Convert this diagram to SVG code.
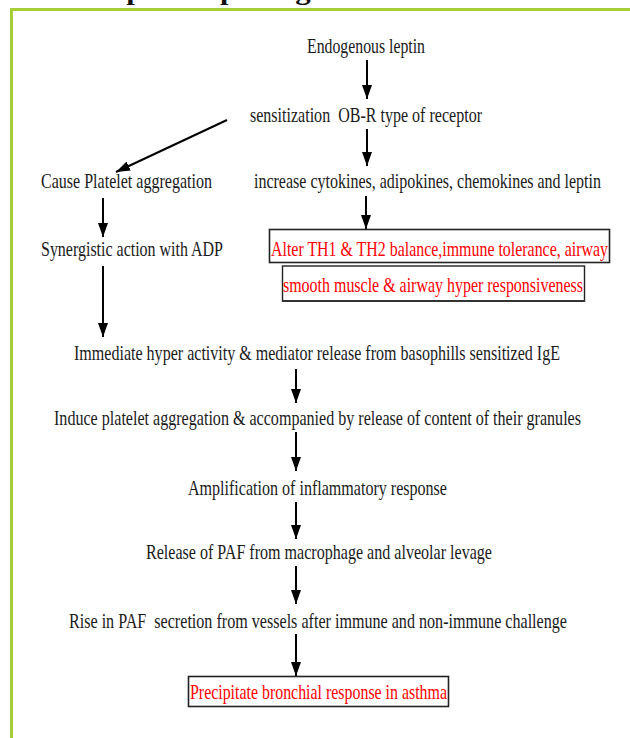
<svg xmlns="http://www.w3.org/2000/svg" width="630" height="738" viewBox="0 0 630 738">
<style>
.t{font-family:"Liberation Serif","Times New Roman",serif;font-size:21px;fill:#1a1a1a}
.r{font-family:"Liberation Serif","Times New Roman",serif;font-size:21px;fill:#ff0000}
.ttl{font-family:"Liberation Serif","Times New Roman",serif;font-size:26px;font-weight:bold;fill:#111}
.box{fill:#fff;stroke:#222;stroke-width:1.6}
.c{stroke:#000;stroke-width:2;fill:none;marker-end:url(#ah)}
</style>
<defs>
<marker id="ah" markerUnits="userSpaceOnUse" markerWidth="14" markerHeight="10" refX="14" refY="5" orient="auto">
<path d="M0,0 L14,5 L0,10 z" fill="#000"/>
</marker>
</defs>
<rect width="630" height="738" fill="#fff"/>
<text class="ttl" x="92" y="0" textLength="432" lengthAdjust="spacingAndGlyphs">Leptin in pathogenesis of asthma</text>
<rect x="11.5" y="9.5" width="660" height="760" fill="none" stroke="#a6ce39" stroke-width="3"/>

<g id="connectors">
<line class="c" x1="367" y1="60" x2="367" y2="99"/>
<line class="c" x1="227" y1="120" x2="116" y2="172"/>
<line class="c" x1="367" y1="129" x2="367" y2="166"/>
<line class="c" x1="103" y1="198" x2="103" y2="237"/>
<line class="c" x1="366" y1="196" x2="366" y2="229"/>
<line class="c" x1="103" y1="266" x2="103" y2="337"/>
<line class="c" x1="296" y1="369" x2="296" y2="403"/>
<line class="c" x1="296" y1="432" x2="296" y2="471"/>
<line class="c" x1="296" y1="502" x2="296" y2="539"/>
<line class="c" x1="296" y1="566" x2="296" y2="604"/>
<line class="c" x1="296" y1="634" x2="296" y2="676"/>
</g>

<g id="n-endogenous"><text class="t" x="307" y="53" textLength="118" lengthAdjust="spacingAndGlyphs">Endogenous leptin</text></g>
<g id="n-sensitization"><text class="t" x="250" y="122" textLength="232" lengthAdjust="spacingAndGlyphs" xml:space="preserve">sensitization  OB-R type of receptor</text></g>
<g id="n-cause"><text class="t" x="41" y="188" textLength="171" lengthAdjust="spacingAndGlyphs">Cause Platelet aggregation</text></g>
<g id="n-increase"><text class="t" x="254" y="188" textLength="347" lengthAdjust="spacingAndGlyphs">increase cytokines, adipokines, chemokines and leptin</text></g>
<g id="n-synergistic"><text class="t" x="41" y="256" textLength="182" lengthAdjust="spacingAndGlyphs">Synergistic action with ADP</text></g>
<g id="n-alter">
<rect class="box" x="269.5" y="229.5" width="340" height="33"/>
<text class="r" x="271" y="256" textLength="337" lengthAdjust="spacingAndGlyphs">Alter TH1 &amp; TH2 balance,immune tolerance, airway</text>
<rect class="box" x="282.5" y="266" width="302" height="35" style="stroke-width:1.4"/>
<line x1="282" y1="301" x2="585" y2="301" stroke="#333" stroke-width="2.2"/>
<text class="r" x="283" y="292" textLength="300" lengthAdjust="spacingAndGlyphs">smooth muscle &amp; airway hyper responsiveness</text>
</g>
<g id="n-immediate"><text class="t" x="74" y="360" textLength="486" lengthAdjust="spacingAndGlyphs">Immediate hyper activity &amp; mediator release from basophills sensitized IgE</text></g>
<g id="n-induce"><text class="t" x="54" y="425" textLength="527" lengthAdjust="spacingAndGlyphs">Induce platelet aggregation &amp; accompanied by release of content of their granules</text></g>
<g id="n-amplification"><text class="t" x="188" y="495" textLength="259" lengthAdjust="spacingAndGlyphs">Amplification of inflammatory response</text></g>
<g id="n-release"><text class="t" x="146" y="559" textLength="346" lengthAdjust="spacingAndGlyphs">Release of PAF from macrophage and alveolar levage</text></g>
<g id="n-rise"><text class="t" x="69" y="628" textLength="498" lengthAdjust="spacingAndGlyphs" xml:space="preserve">Rise in PAF  secretion from vessels after immune and non-immune challenge</text></g>
<g id="n-precipitate">
<rect class="box" x="188.5" y="676.5" width="260" height="30"/>
<text class="r" x="190" y="699" textLength="257" lengthAdjust="spacingAndGlyphs">Precipitate bronchial response in asthma</text>
</g>
</svg>
